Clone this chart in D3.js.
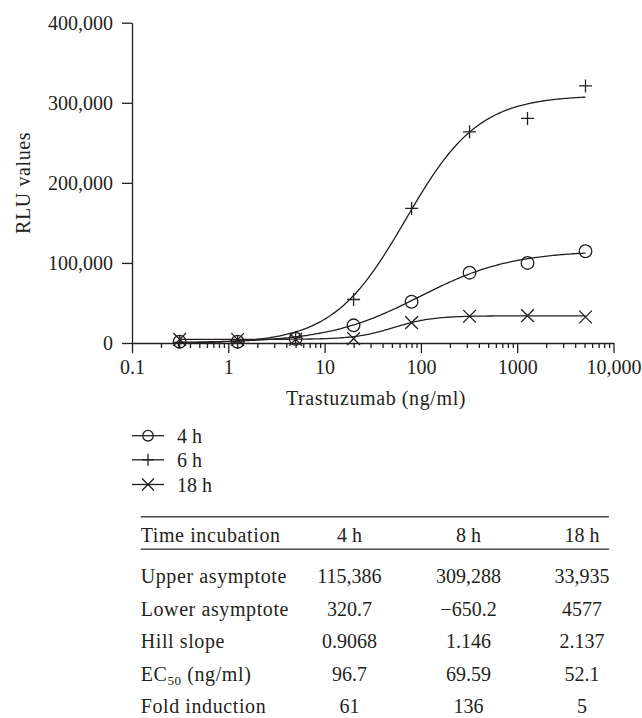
<!DOCTYPE html>
<html><head><meta charset="utf-8">
<script src="https://cdn.jsdelivr.net/npm/d3@7"></script>
<style>
body{margin:0;background:#fff}
text{font-family:"Liberation Serif","Times New Roman",serif;fill:#231f20}
</style>
</head><body><svg id="c" width="642" height="718"></svg>
<script>
// ---- data ----
const concentrations = [0.3125, 1.25, 5, 20, 80, 320, 1280, 5120];
const seriesNames = ["4 h", "6 h", "18 h"];
const seriesSymbols = ["circle", "plus", "cross"];
const rlu4h  = [1600, 1600, 5300, 22100, 51500, 87800, 100000, 114600];
const rlu6h  = [800, 1000, 7000, 54300, 168000, 263700, 280500, 321000];
const rlu18h = [4600, 4400, 4600, 5500, 25400, 33400, 34200, 32500];
const xTickValues = [0.1, 1, 10, 100, 1000, 10000];
const xTickLabels = ["0.1", "1", "10", "100", "1000", "10,000"];
const yTickValues = [0, 100000, 200000, 300000, 400000];
const yTickLabels = ["0", "100,000", "200,000", "300,000", "400,000"];
const xTitle = "Trastuzumab (ng/ml)";
const yTitle = "RLU values";
// fitted 4PL parameters (table)
const upperAsymptote = [115386, 309288, 33935];
const lowerAsymptote = [320.7, -650.2, 4577];
const hillSlope = [0.9068, 1.146, 2.137];
const ec50 = [96.7, 69.59, 52.1];
const foldInduction = [61, 136, 5];
const tableHeader = ["Time incubation", "4 h", "8 h", "18 h"];
const tableRowLabels = ["Upper asymptote", "Lower asymptote", "Hill slope", "EC50", "Fold induction"];
const tableRowText = [
  ["115,386", "309,288", "33,935"],
  ["320.7", "\u2212650.2", "4577"],
  ["0.9068", "1.146", "2.137"],
  ["96.7", "69.59", "52.1"],
  ["61", "136", "5"]
];

// ---- chart ----
const svg = d3.select("#c");
const ink = "#231f20";
const fs = 20;
const ls = 0.6;
const x = d3.scaleLog().domain([0.1, 10000]).range([132, 613.5]);
const y = d3.scaleLinear().domain([0, 400000]).range([343, 22.7]);

// minor ticks
const minor = [];
for (let e = -1; e < 4; e++) for (let m = 2; m <= 9; m++) minor.push(m * Math.pow(10, e));
const gMinor = svg.append("g").attr("transform", `translate(0,${y(0)})`)
  .call(d3.axisBottom(x).tickValues(minor).tickSize(5).tickSizeOuter(0).tickFormat(""));
gMinor.select(".domain").remove();
const gx = svg.append("g").attr("transform", `translate(0,${y(0)})`)
  .call(d3.axisBottom(x).tickValues(xTickValues).tickSize(10).tickSizeOuter(0).tickPadding(7)
    .tickFormat((d, i) => xTickLabels[i]));
const gy = svg.append("g").attr("transform", `translate(${x(0.1)},0)`)
  .call(d3.axisLeft(y).tickValues(yTickValues).tickSize(10).tickSizeOuter(0).tickPadding(9)
    .tickFormat((d, i) => yTickLabels[i]));
[gx, gy, gMinor].forEach(g => {
  g.selectAll("path,line").attr("stroke", ink).attr("stroke-width", 1.3);
  g.selectAll("text").attr("font-size", fs).attr("fill", ink);
});

svg.append("text").attr("x", 376).attr("y", 405).attr("text-anchor", "middle")
  .attr("font-size", fs).attr("letter-spacing", ls).text(xTitle);
svg.append("text").attr("transform", `translate(30,${(y(0) + y(400000)) / 2}) rotate(-90)`)
  .attr("text-anchor", "middle").attr("font-size", fs).attr("letter-spacing", ls).text(yTitle);

// fitted curves (4PL with the tabulated parameters)
const seriesData = [rlu4h, rlu6h, rlu18h];
const fourPL = (c, i) => lowerAsymptote[i] + (upperAsymptote[i] - lowerAsymptote[i]) / (1 + Math.pow(ec50[i] / c, hillSlope[i]));
const line = d3.line().x(d => x(d[0])).y(d => y(d[1]));
const cMin = d3.min(concentrations), cMax = d3.max(concentrations);
const samples = d3.range(0, 201).map(k => cMin * Math.pow(cMax / cMin, k / 200));
seriesNames.forEach((n, i) => {
  svg.append("path").attr("d", line(samples.map(c => [c, fourPL(c, i)])))
    .attr("fill", "none").attr("stroke", ink).attr("stroke-width", 1.3);
});

function drawSymbol(g, type, cx, cy, s) {
  if (type === "circle") {
    g.append("circle").attr("cx", cx).attr("cy", cy).attr("r", s)
      .attr("fill", "none").attr("stroke", ink).attr("stroke-width", 1.3);
  } else if (type === "plus") {
    g.append("path").attr("d", `M${cx - s},${cy}H${cx + s}M${cx},${cy - s}V${cy + s}`)
      .attr("stroke", ink).attr("stroke-width", 1.3).attr("fill", "none");
  } else {
    const a = s * 0.75;
    g.append("path").attr("d", `M${cx - a},${cy - a}L${cx + a},${cy + a}M${cx - a},${cy + a}L${cx + a},${cy - a}`)
      .attr("stroke", ink).attr("stroke-width", 1.3).attr("fill", "none");
  }
}
const gPts = svg.append("g");
seriesData.forEach((vals, i) => {
  vals.forEach((v, j) => {
    const s = seriesSymbols[i] === "circle" ? 6.3 : seriesSymbols[i] === "plus" ? 6.5 : 8.5;
    drawSymbol(gPts, seriesSymbols[i], x(concentrations[j]), y(v), s);
  });
});

// legend
const legRows = [435.7, 459.8, 484.5];
seriesNames.forEach((n, i) => {
  const g = svg.append("g");
  g.append("line").attr("x1", 132).attr("x2", 164).attr("y1", legRows[i]).attr("y2", legRows[i])
    .attr("stroke", ink).attr("stroke-width", 1.3);
  drawSymbol(g, seriesSymbols[i], 148, legRows[i], seriesSymbols[i] === "circle" ? 5.3 : seriesSymbols[i] === "plus" ? 6 : 8);
  g.append("text").attr("x", 177).attr("y", legRows[i]).attr("dy", "0.35em").attr("font-size", fs).text(n);
});

// table
const tLeft = 140.7, tRight = 609;
const colX = [349.5, 468.5, 582];
svg.append("line").attr("x1", tLeft).attr("x2", tRight).attr("y1", 516.7).attr("y2", 516.7)
  .attr("stroke", "#4d4d4d").attr("stroke-width", 1.6);
svg.append("line").attr("x1", tLeft).attr("x2", tRight).attr("y1", 549.3).attr("y2", 549.3)
  .attr("stroke", "#4d4d4d").attr("stroke-width", 1.6);
const headY = 541.5;
svg.append("text").attr("x", tLeft).attr("y", headY).attr("font-size", fs).attr("letter-spacing", ls).text(tableHeader[0]);
tableHeader.slice(1).forEach((h, i) => {
  svg.append("text").attr("x", colX[i]).attr("y", headY).attr("text-anchor", "middle").attr("font-size", fs).text(h);
});
const rowY = [583.3, 616, 648.3, 680.5, 713.3];
tableRowLabels.forEach((lab, r) => {
  const t = svg.append("text").attr("x", tLeft).attr("y", rowY[r]).attr("font-size", fs).attr("letter-spacing", ls);
  if (lab === "EC50") {
    t.append("tspan").text("EC");
    t.append("tspan").attr("font-size", fs * 0.65).attr("dy", 4).text("50");
    t.append("tspan").attr("dy", -4).text(" (ng/ml)");
  } else t.text(lab);
  tableRowText[r].forEach((v, c) => {
    svg.append("text").attr("x", colX[c]).attr("y", rowY[r]).attr("text-anchor", "middle").attr("font-size", fs).text(v);
  });
});
</script>
</body></html>
